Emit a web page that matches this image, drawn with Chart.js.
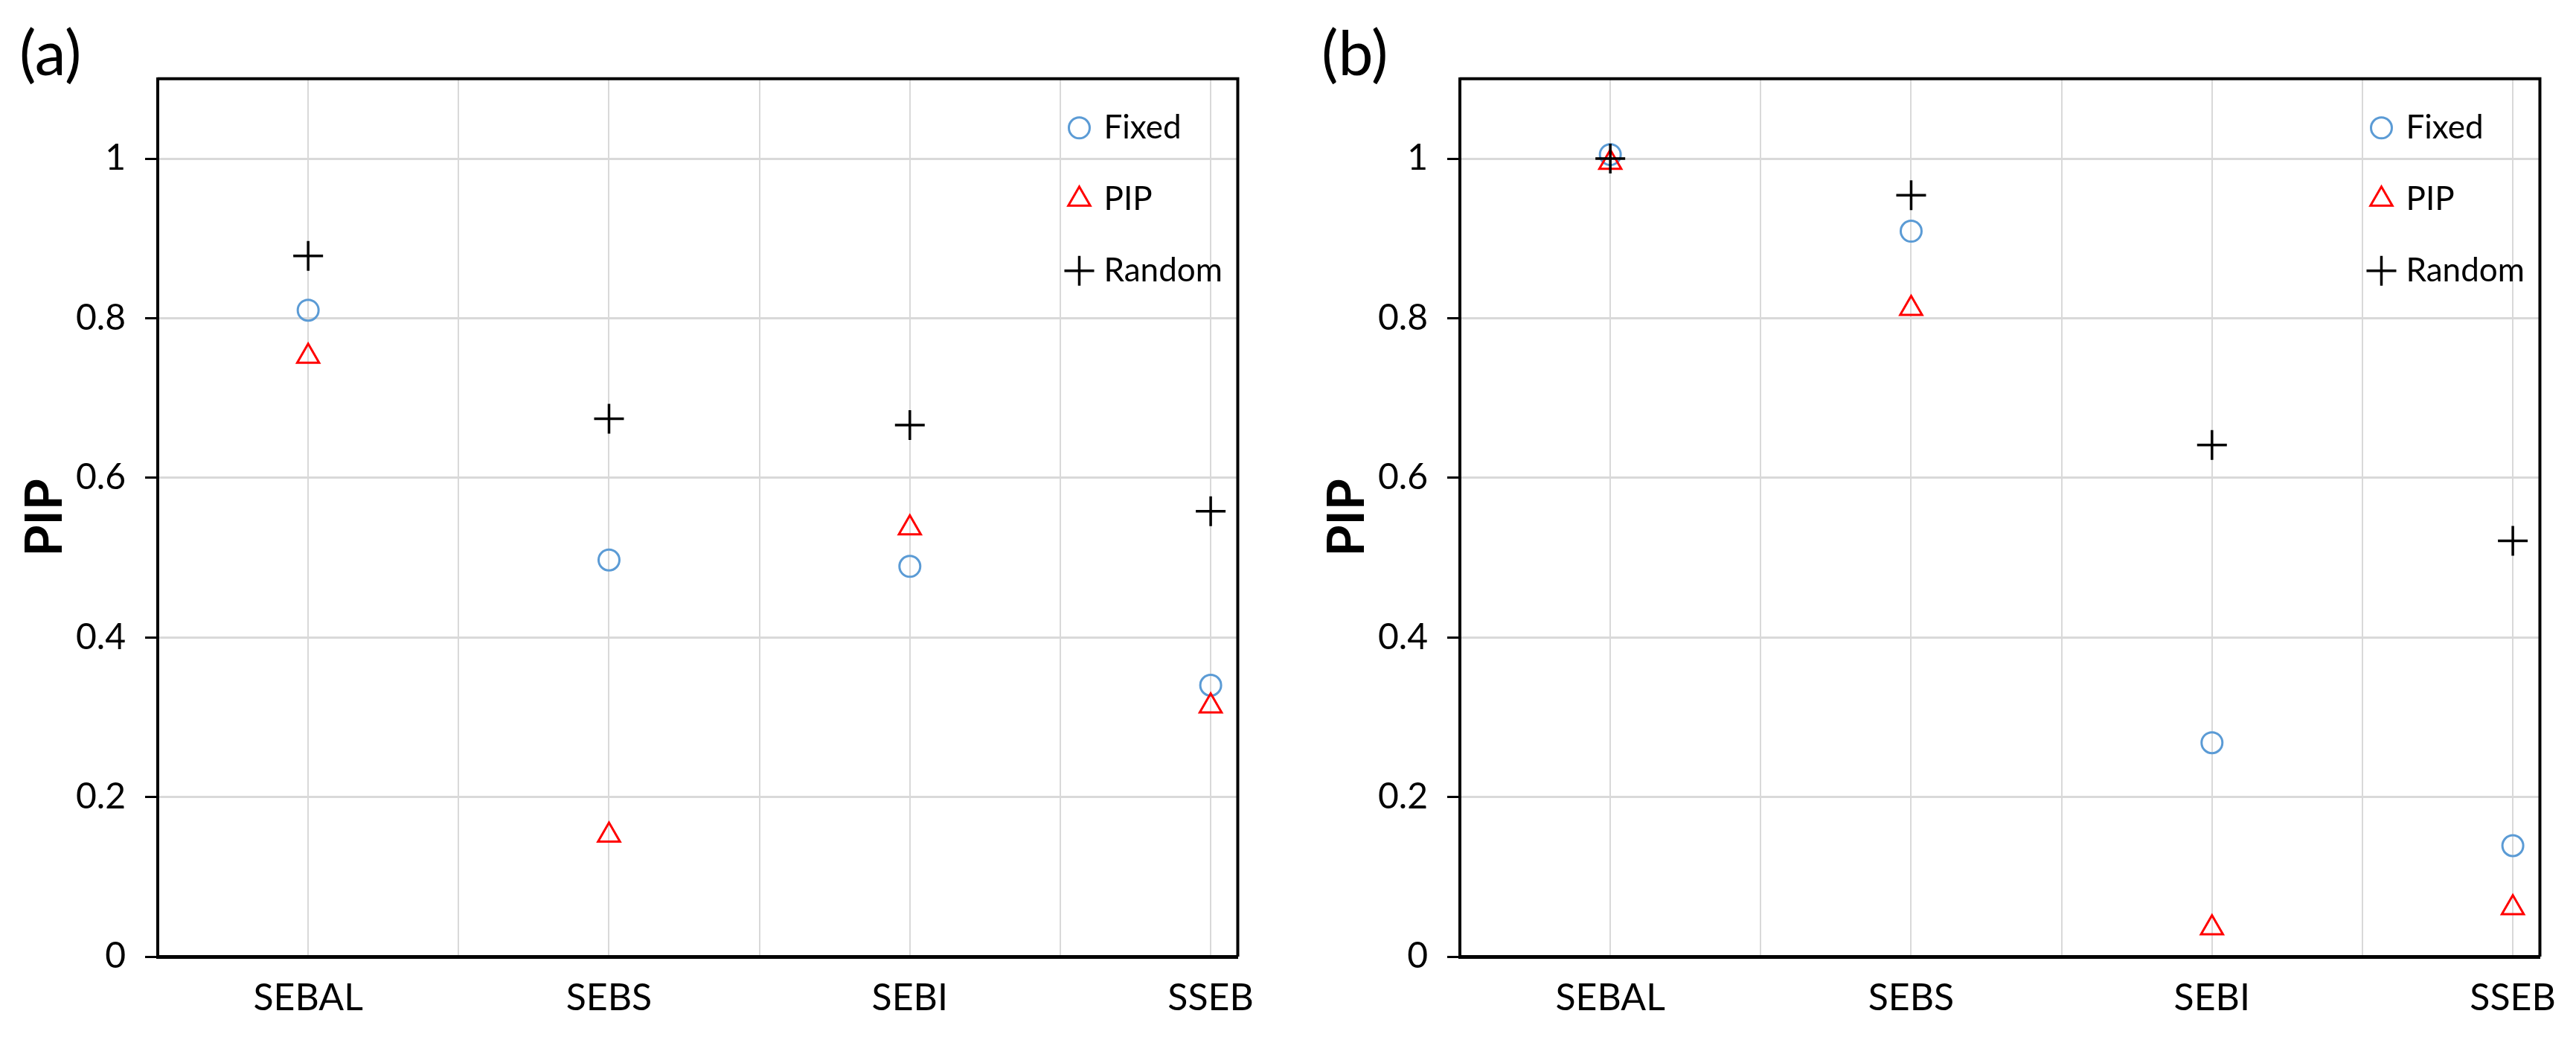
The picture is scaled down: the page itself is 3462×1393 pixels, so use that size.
<!DOCTYPE html>
<html><head><meta charset="utf-8">
<script src="https://cdn.jsdelivr.net/npm/chart.js@4.4.1/dist/chart.umd.min.js"></script>
<style>
html,body{margin:0;padding:0;background:#fff;overflow:hidden;width:3462px;height:1393px}
.panel{position:absolute;top:0;width:1712px;height:1393px}
</style></head><body>
<div class="panel" style="left:0"><canvas id="ca"></canvas></div>
<div class="panel" style="left:1750px"><canvas id="cb"></canvas></div>
<script>
// ---- data ----
const categories = ['SEBAL', 'SEBS', 'SEBI', 'SSEB'];
const categoryX = [1, 2, 3, 4];
const yTickLabels = ['0', '0.2', '0.4', '0.6', '0.8', '1'];
const seriesNames = ['Fixed', 'PIP', 'Random'];
const panelLabels = ['(a)', '(b)'];
const yAxisTitle = 'PIP';

const fixedA  = [0.810, 0.497, 0.489, 0.340];
const pipA    = [0.752, 0.152, 0.537, 0.314];
const randomA = [0.878, 0.674, 0.666, 0.558];

const fixedB  = [1.005, 0.909, 0.268, 0.139];
const pipB    = [0.995, 0.812, 0.036, 0.061];
const randomB = [1.000, 0.954, 0.641, 0.521];

// ---- styling ----
const FONT = 'Lato, "Liberation Sans", sans-serif';
Chart.defaults.font.family = FONT;
Chart.defaults.color = '#000';

const styles = [
  { pointStyle: 'circle',   radius: 14, color: '#5B9BD5', width: 3,   order: 2 },
  { pointStyle: 'triangle', radius: 17, color: '#FF0000', width: 3,   order: 1 },
  { pointStyle: 'cross',    radius: 20, color: '#000000', width: 3.5, order: 0 }
];

function toPoints(vals) {
  return vals.map((v, i) => ({ x: categoryX[i], y: v }));
}

function makeDatasets(seriesVals) {
  return seriesVals.map((vals, k) => ({
    label: seriesNames[k],
    data: toPoints(vals),
    showLine: false,
    pointStyle: styles[k].pointStyle,
    pointRadius: styles[k].radius,
    pointHoverRadius: styles[k].radius,
    pointBorderColor: styles[k].color,
    pointBackgroundColor: 'rgba(0,0,0,0)',
    pointBorderWidth: styles[k].width,
    borderColor: styles[k].color,
    backgroundColor: 'rgba(0,0,0,0)',
    order: styles[k].order
  }));
}

const framePlugin = {
  id: 'frame',
  beforeDatasetsDraw(chart) {
    const { ctx, chartArea: a } = chart;
    ctx.save();
    ctx.strokeStyle = '#000';
    ctx.lineWidth = 4;
    ctx.beginPath();
    ctx.moveTo(a.left, a.top);
    ctx.lineTo(a.right, a.top);
    ctx.lineTo(a.right, a.bottom);
    ctx.stroke();
    ctx.restore();
  }
};

const insideLegend = {
  id: 'insideLegend',
  afterDatasetsDraw(chart) {
    const { ctx, chartArea: a } = chart;
    ctx.save();
    chart.data.datasets.forEach((ds, i) => {
      const mx = a.right - 213;
      const my = a.top + 66 + i * 96;
      const opts = {
        pointStyle: ds.pointStyle,
        radius: ds.pointRadius,
        borderWidth: ds.pointBorderWidth,
        rotation: 0
      };
      ctx.strokeStyle = ds.pointBorderColor;
      ctx.fillStyle = 'rgba(0,0,0,0)';
      ctx.lineWidth = ds.pointBorderWidth;
      Chart.helpers.drawPoint(ctx, opts, mx, my);
      ctx.fillStyle = '#000';
      ctx.font = '44px ' + FONT;
      ctx.textAlign = 'left';
      ctx.textBaseline = 'middle';
      ctx.fillText(ds.label, a.right - 180, my);
    });
    ctx.restore();
  }
};

function makeChart(id, label, seriesVals) {
  return new Chart(document.getElementById(id), {
    type: 'scatter',
    data: { datasets: makeDatasets(seriesVals) },
    plugins: [framePlugin, insideLegend],
    options: {
      responsive: true,
      maintainAspectRatio: false,
      devicePixelRatio: 1,
      animation: false,
      layout: { padding: { left: 26, right: 47, top: 0, bottom: 0 } },
      plugins: {
        legend: { display: false },
        tooltip: { enabled: false },
        title: {
          display: true,
          text: label,
          align: 'start',
          color: '#000',
          font: { family: FONT, size: 84, weight: 'normal' },
          padding: { top: 24, bottom: -19 }
        }
      },
      scales: {
        x: {
          type: 'linear',
          min: 0.5,
          max: 4.09,
          afterFit: (s) => { s.height = 108; },
          ticks: {
            stepSize: 0.5,
            includeBounds: false,
            autoSkip: false,
            maxRotation: 0,
            padding: 26,
            color: '#000',
            font: { family: FONT, size: 50 },
            callback: (v) => {
              const idx = categoryX.indexOf(v);
              return idx >= 0 ? categories[idx] : '';
            }
          },
          grid: { color: '#D9D9D9', lineWidth: 2, drawTicks: false },
          border: { color: '#000', width: 5 }
        },
        y: {
          min: 0,
          max: 1.1,
          afterFit: (s) => { s.width = 186; },
          ticks: {
            stepSize: 0.2,
            includeBounds: false,
            padding: 26,
            color: '#000',
            font: { family: FONT, size: 48 },
            callback: (v, i) => (yTickLabels[i] !== undefined ? yTickLabels[i] : '')
          },
          grid: { color: '#D9D9D9', lineWidth: 3, tickLength: 17, tickColor: '#000', tickWidth: 3 },
          border: { color: '#000', width: 4 },
          title: {
            display: true,
            text: yAxisTitle,
            color: '#000',
            font: { family: FONT, size: 68, weight: 'bold' },
            padding: { top: -6, bottom: 0 }
          }
        }
      }
    }
  });
}

makeChart('ca', panelLabels[0], [fixedA, pipA, randomA]);
makeChart('cb', panelLabels[1], [fixedB, pipB, randomB]);
</script>
</body></html>
